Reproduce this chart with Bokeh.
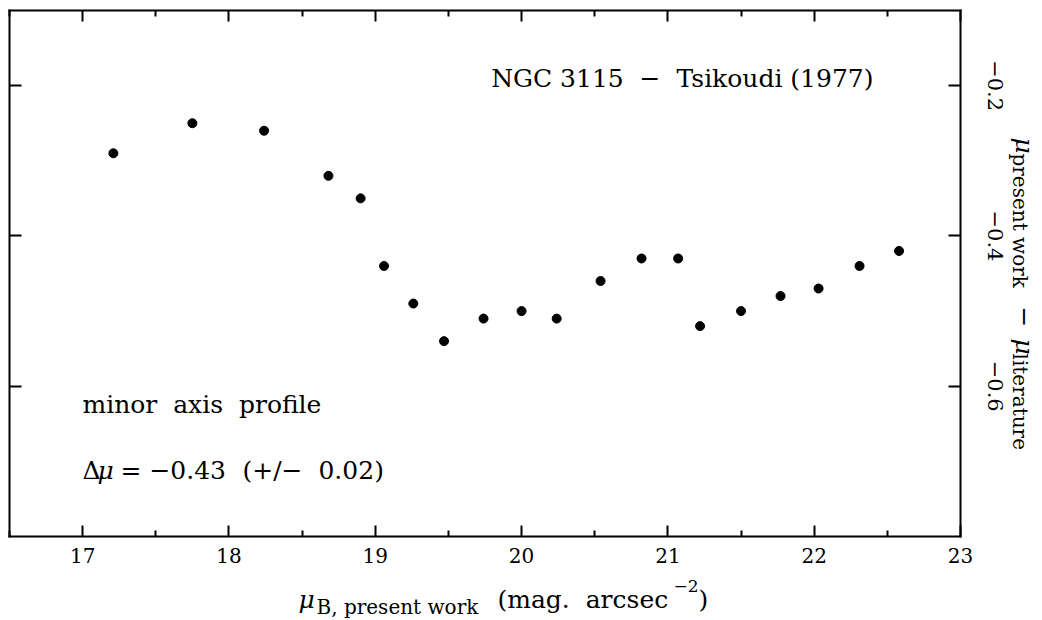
import math

from bokeh.plotting import figure
from bokeh.models import Range1d, LinearAxis, FixedTicker, Label
from bokeh.embed import file_html
from bokeh.resources import INLINE

# NGC 3115 minor-axis profile: surface brightness (present work) and the
# difference with Tsikoudi (1977)
mu_present = [17.21, 17.75, 18.24, 18.68, 18.90, 19.06, 19.26, 19.47, 19.74, 20.00,
              20.24, 20.54, 20.82, 21.07, 21.22, 21.50, 21.77, 22.03, 22.31, 22.58]
delta_mu = [-0.29, -0.25, -0.26, -0.32, -0.35, -0.44, -0.49, -0.54, -0.51, -0.50,
            -0.51, -0.46, -0.43, -0.43, -0.52, -0.50, -0.48, -0.47, -0.44, -0.42]

x_major = [17, 18, 19, 20, 21, 22, 23]
x_minor = [16.5, 17.5, 18.5, 19.5, 20.5, 21.5, 22.5]
y_major = [-0.2, -0.4, -0.6]
y_labels = ["\u22120.2", "\u22120.4", "\u22120.6"]

X_LIM = (16.5, 23.0)
Y_LIM = (-0.8, -0.1)

SERIF = "DejaVu Serif"
W, H = 1042, 620
# box of the plotted area on the page (pixels from the top-left corner)
BOX_L, BOX_R, BOX_T, BOX_B = 9, 960, 10, 536

# the data area fills the whole page; the box is drawn by four axes at fixed places
kx = (BOX_R - BOX_L) / (X_LIM[1] - X_LIM[0])
ky = (BOX_B - BOX_T) / (Y_LIM[1] - Y_LIM[0])
x_range = Range1d(X_LIM[0] - BOX_L / kx, X_LIM[1] + (W - BOX_R) / kx)
y_range = Range1d(Y_LIM[0] - (H - BOX_B) / ky, Y_LIM[1] + BOX_T / ky)

p = figure(width=W, height=H, x_range=x_range, y_range=y_range,
           x_axis_location=None, y_axis_location=None,
           min_border=0, output_backend="svg", toolbar_location=None)
p.grid.visible = False
p.outline_line_color = None
p.background_fill_color = "white"
p.border_fill_color = "white"


def make_axis(major, minor, loc, bounds, labels=False, tick_len=11):
    ax = LinearAxis(ticker=FixedTicker(ticks=major, minor_ticks=minor),
                    fixed_location=loc, bounds=bounds)
    ax.axis_line_width = 2
    ax.axis_line_color = "black"
    ax.axis_line_cap = "square"
    ax.major_tick_in = tick_len
    ax.major_tick_out = 0
    ax.minor_tick_in = 6
    ax.minor_tick_out = 0
    ax.major_tick_line_width = 2
    ax.minor_tick_line_width = 2
    if not minor:
        ax.minor_tick_line_color = None
    ax.major_label_text_font = SERIF
    ax.major_label_text_font_size = "20px"
    if labels:
        ax.major_label_text_color = "black"
        ax.major_label_standoff = 11
    else:
        ax.major_label_text_color = None
    return ax


p.add_layout(make_axis(x_major, x_minor, Y_LIM[0], X_LIM, labels=True), "below")
p.add_layout(make_axis(x_major, x_minor, Y_LIM[1], X_LIM), "above")
p.add_layout(make_axis(y_major, [], X_LIM[0], Y_LIM, tick_len=12), "left")
p.add_layout(make_axis(y_major, [], X_LIM[1], Y_LIM, tick_len=12), "right")

p.scatter(mu_present, delta_mu, size=9, marker="circle",
          fill_color="black", line_color="black")

down = -math.pi / 2

# right-hand tick labels, reading downward, centred on their ticks
for yv, lab in zip(y_major, y_labels):
    p.add_layout(Label(x=995, y=yv, x_units="screen", y_units="data", text=lab,
                       text_font=SERIF, text_font_size="21px", text_color="black",
                       angle=down, text_align="center", text_baseline="alphabetic"))


def put(text, cx, cy, size, style="normal", angle=0.0, align="left"):
    p.add_layout(Label(x=cx, y=H - cy, x_units="screen", y_units="screen",
                       text=text, text_font=SERIF, text_font_size=f"{size}px",
                       text_font_style=style, text_color="black",
                       angle=angle, text_align=align, text_baseline="alphabetic"))


NB = "\u00a0"
put(f"NGC 3115{NB} \u2212 {NB}Tsikoudi (1977)", 873, 78, 25, align="right")
put(f"minor{NB} axis{NB} profile", 82, 404, 25)
put("\u0394", 82, 470, 25)
put("\u03bc", 97, 470, 25, style="italic")
put("= \u22120.43", 120, 470, 25)
put(f"(+/\u2212{NB} 0.02)", 242, 470, 25)

# x-axis title: mu_{B, present work} (mag. arcsec^-2)
put("\u03bc", 298, 599, 25, style="italic")
put("B, present work", 316, 606, 20)
put(f"(mag.{NB} arcsec", 497, 599, 25)
put("\u22122", 673, 585, 17)
put(")", 698, 599, 25)

# right-hand title, reading downward: mu_present work - mu_literature
put("\u03bc", 1024, 137, 25, style="italic", angle=down)
put("present work", 1019, 153, 20, angle=down)
put("\u2212", 1024, 306, 25, angle=down)
put("\u03bc", 1024, 338, 25, style="italic", angle=down)
put("literature", 1019, 353, 20, angle=down)

open("out.html", "w").write(file_html(p, INLINE))
